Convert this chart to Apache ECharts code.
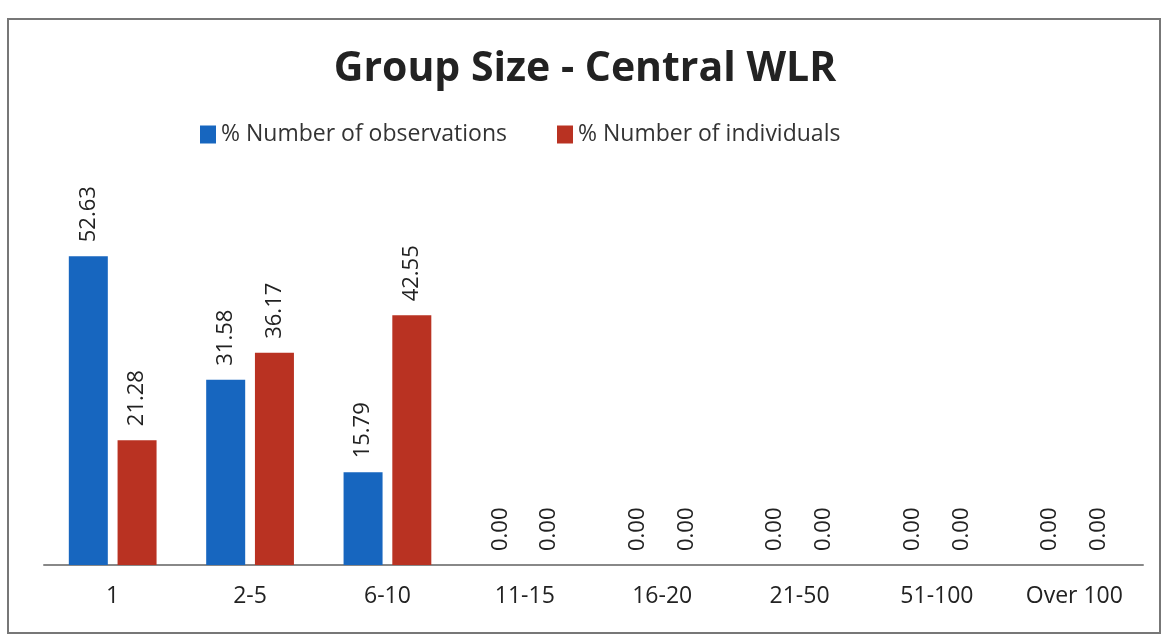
<!DOCTYPE html>
<html>
<head>
<meta charset="utf-8">
<script src="https://cdn.jsdelivr.net/npm/echarts@6/dist/echarts.min.js"></script>
<style>
  html, body { margin: 0; padding: 0; background: #fff; }
  #chart { width: 1170px; height: 643px; }
</style>
</head>
<body>
<div id="chart"></div>
<script>
const categories = ['1', '2-5', '6-10', '11-15', '16-20', '21-50', '51-100', 'Over 100']
const observations = [52.63, 31.58, 15.79, 0, 0, 0, 0, 0]
const individuals = [21.28, 36.17, 42.55, 0, 0, 0, 0, 0]

const FONT = '"Open Sans", "Liberation Sans", sans-serif'

const valueLabel = {
  show: true,
  position: 'top',
  rotate: 90,
  align: 'left',
  verticalAlign: 'middle',
  distance: 14,
  color: '#222',
  fontFamily: FONT,
  fontSize: 22,
  formatter: p => p.value.toFixed(2),
}

const chart = echarts.init(document.getElementById('chart'), null, { renderer: 'canvas' })
chart.setOption({
  backgroundColor: '#fff',
  animation: false,
  title: {
    text: 'Group Size - Central WLR',
    left: 'center',
    top: 44,
    textStyle: { fontFamily: FONT, fontWeight: 'bold', fontSize: 41, color: '#222' },
  },
  legend: {
    top: 118,
    left: 195,
    itemWidth: 16,
    itemHeight: 18,
    itemGap: 50,
    icon: 'rect',
    textStyle: { fontFamily: FONT, fontSize: 23, color: '#333' },
    data: ['% Number of observations', '% Number of individuals'],
  },
  graphic: [{
    type: 'rect',
    shape: { x: 8, y: 19, width: 1152, height: 614 },
    style: { fill: 'none', stroke: '#777', lineWidth: 2 },
    silent: true,
  }],
  grid: { left: 44, right: 27, top: 213, bottom: 78 },
  xAxis: {
    type: 'category',
    data: categories,
    axisLine: { lineStyle: { color: '#888', width: 2 } },
    axisTick: { show: false },
    axisLabel: { color: '#222', fontFamily: FONT, fontSize: 23, margin: 20 },
  },
  yAxis: {
    type: 'value',
    min: 0,
    max: 60,
    show: false,
    splitLine: { show: false },
  },
  series: [
    {
      name: '% Number of observations',
      type: 'bar',
      data: observations,
      barWidth: 39,
      barGap: '25%',
      itemStyle: { color: '#1766bf' },
      label: valueLabel,
    },
    {
      name: '% Number of individuals',
      type: 'bar',
      data: individuals,
      barWidth: 39,
      itemStyle: { color: '#b93222' },
      label: valueLabel,
    },
  ],
})
</script>
</body>
</html>
